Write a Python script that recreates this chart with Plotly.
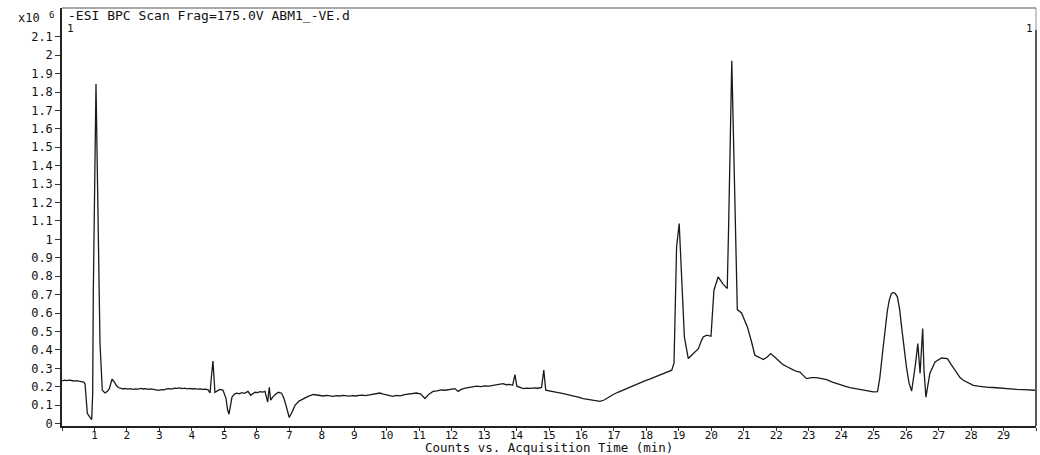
import plotly.graph_objects as go

# Acquisition time (min) and BPC intensity (x10^6 counts)
time_min = [
    0.00, 0.08, 0.15, 0.22, 0.30, 0.37, 0.44, 0.52, 0.60, 0.67, 0.71, 0.78, 0.86, 0.915, 0.945, 0.964,
    1.047, 1.10, 1.17, 1.241, 1.324, 1.40, 1.457, 1.54, 1.611, 1.68, 1.734, 1.80, 1.888, 1.95,
    2.02, 2.10, 2.18, 2.26, 2.34, 2.42, 2.50, 2.58, 2.66, 2.74, 2.82, 2.90, 2.98,
    3.06, 3.14, 3.22, 3.30, 3.38, 3.46, 3.54, 3.62, 3.70, 3.78, 3.86, 3.94,
    4.02, 4.10, 4.18, 4.26, 4.34, 4.42, 4.50, 4.56, 4.60, 4.65, 4.71, 4.78, 4.86, 4.93, 4.96,
    5.051, 5.10, 5.143, 5.19, 5.236, 5.31, 5.38, 5.46, 5.54, 5.62, 5.69, 5.728, 5.811, 5.87, 5.944,
    6.02, 6.10, 6.18, 6.252, 6.335, 6.384, 6.428, 6.489, 6.57, 6.662, 6.766, 6.84, 6.899, 6.95,
    7.00, 7.08, 7.176, 7.30, 7.432, 7.58, 7.739, 7.85, 7.946,
    8.05, 8.15, 8.25, 8.35, 8.45, 8.55, 8.65, 8.75, 8.85, 8.95,
    9.05, 9.15, 9.25, 9.35, 9.45, 9.55, 9.65, 9.79, 9.90,
    10.05, 10.19, 10.30, 10.42, 10.55, 10.68, 10.80, 10.92,
    11.05, 11.18, 11.30, 11.43, 11.55, 11.68, 11.80, 11.92,
    12.02, 12.10, 12.20, 12.30, 12.42, 12.55, 12.66, 12.77, 12.90,
    13.02, 13.15, 13.27, 13.39, 13.48, 13.58, 13.68, 13.78, 13.88, 13.95,
    14.01, 14.10, 14.21, 14.32, 14.44, 14.55, 14.66, 14.77, 14.84, 14.90,
    15.02, 15.15, 15.28, 15.41, 15.54, 15.67, 15.80, 15.93,
    16.05, 16.18, 16.31, 16.44, 16.57, 16.70, 16.84, 16.98,
    17.12, 17.26, 17.40, 17.53, 17.67, 17.80, 17.95,
    18.10, 18.26, 18.42, 18.60, 18.78, 18.85, 18.93,
    19.01, 19.09, 19.17, 19.29, 19.44, 19.60, 19.70, 19.75, 19.86, 19.99,
    20.08, 20.21, 20.35, 20.49, 20.53, 20.63, 20.70, 20.80, 20.93,
    21.02, 21.11, 21.24, 21.34, 21.47, 21.60, 21.72, 21.83, 21.95,
    22.10, 22.21, 22.32, 22.42, 22.52, 22.63, 22.73, 22.83, 22.93,
    23.08, 23.24, 23.40, 23.55, 23.73, 23.91,
    24.11, 24.27, 24.42, 24.55, 24.68, 24.84, 24.99,
    25.12, 25.19, 25.27, 25.35, 25.42, 25.48, 25.54, 25.60, 25.66, 25.73, 25.80, 25.86, 25.93,
    26.01, 26.09, 26.17, 26.29, 26.36, 26.43, 26.51, 26.55, 26.61, 26.73, 26.89,
    27.09, 27.27, 27.40, 27.56, 27.66, 27.76, 27.92,
    28.07, 28.22, 28.37, 28.53, 28.68, 28.84,
    29.00, 29.17, 29.40, 29.62, 29.80, 29.97,
]
intensity_e6 = [
    0.232, 0.236, 0.233, 0.236, 0.234, 0.231, 0.233, 0.229, 0.227, 0.225, 0.215, 0.056, 0.034, 0.022, 0.165, 0.71,
    1.844, 1.25, 0.436, 0.181, 0.166, 0.175, 0.19, 0.241, 0.226, 0.205, 0.196, 0.192, 0.188, 0.191,
    0.187, 0.190, 0.186, 0.189, 0.187, 0.191, 0.188, 0.190, 0.186, 0.188, 0.185, 0.182, 0.180,
    0.184, 0.183, 0.188, 0.190, 0.187, 0.193, 0.191, 0.194, 0.190, 0.192, 0.189, 0.191,
    0.188, 0.190, 0.187, 0.189, 0.186, 0.187, 0.183, 0.166, 0.25, 0.34, 0.17, 0.178, 0.186, 0.183, 0.181,
    0.137, 0.075, 0.051, 0.09, 0.144, 0.160, 0.165, 0.162, 0.168, 0.164, 0.172, 0.175, 0.154, 0.163, 0.17,
    0.168, 0.173, 0.171, 0.175, 0.117, 0.197, 0.127, 0.144, 0.158, 0.17, 0.165, 0.135, 0.099, 0.06,
    0.033, 0.06, 0.099, 0.122, 0.136, 0.148, 0.158, 0.155, 0.152,
    0.150, 0.153, 0.151, 0.148, 0.152, 0.150, 0.153, 0.151, 0.149, 0.152,
    0.150, 0.153, 0.155, 0.152, 0.156, 0.158, 0.160, 0.166, 0.160,
    0.152, 0.148, 0.153, 0.151, 0.157, 0.160, 0.163, 0.166,
    0.160, 0.136, 0.160, 0.175, 0.178, 0.183, 0.181, 0.186,
    0.188, 0.19, 0.175, 0.186, 0.192, 0.196, 0.199, 0.203, 0.201,
    0.205, 0.203, 0.207, 0.208, 0.212, 0.217, 0.211, 0.213, 0.208, 0.266,
    0.203, 0.196, 0.19, 0.193, 0.191, 0.194, 0.192, 0.196, 0.29, 0.181,
    0.178, 0.172, 0.168, 0.164, 0.159, 0.155, 0.148, 0.143,
    0.136, 0.132, 0.128, 0.124, 0.121, 0.128, 0.145, 0.158,
    0.170, 0.181, 0.192, 0.200, 0.210, 0.221, 0.232,
    0.241, 0.252, 0.262, 0.275, 0.29, 0.328, 0.959,
    1.086, 0.796, 0.47, 0.353, 0.38, 0.407, 0.452, 0.47, 0.48, 0.474,
    0.724, 0.796, 0.76, 0.733, 1.05, 1.97, 1.412, 0.619, 0.601,
    0.566, 0.525, 0.443, 0.371, 0.360, 0.348, 0.362, 0.38, 0.362,
    0.335, 0.32, 0.31, 0.299, 0.292, 0.283, 0.28, 0.262, 0.244,
    0.25, 0.25, 0.244, 0.239, 0.225, 0.213,
    0.203, 0.195, 0.19, 0.188, 0.185, 0.180, 0.172,
    0.174, 0.25, 0.38, 0.51, 0.61, 0.67, 0.703, 0.712, 0.707, 0.688, 0.62, 0.525, 0.41,
    0.307, 0.22, 0.177, 0.326, 0.435, 0.272, 0.516, 0.29, 0.144, 0.272, 0.335,
    0.356, 0.353, 0.317, 0.272, 0.25, 0.235, 0.220,
    0.208, 0.203, 0.199, 0.197, 0.196, 0.193,
    0.190, 0.188, 0.186, 0.184, 0.183, 0.181,
]

x_tick_vals = list(range(0, 31))
x_tick_text = [""] + [str(i) for i in range(1, 30)] + [""]
y_tick_vals = [round(i * 0.1, 1) for i in range(0, 22)]
y_tick_text = ["0"] + [("%g" % v) for v in y_tick_vals[1:]]

title_text = "-ESI BPC Scan Frag=175.0V ABM1_-VE.d"
x_title_text = "Counts vs. Acquisition Time (min)"

FONT = "DejaVu Sans Mono"
INK = "#111111"

fig = go.Figure()
fig.add_trace(go.Scatter(
    x=time_min, y=intensity_e6, mode="lines",
    line=dict(color="#1a1a1a", width=1.3),
    showlegend=False, hoverinfo="skip",
))

W, H = 1040, 455
ML, MR, MT, MB = 62, 4, 8, 29
PH = H - MT - MB


def py(pix):
    return (H - MB - pix) / PH


def px(pix):
    return (pix - ML) / (W - ML - MR)


fig.update_layout(
    width=W, height=H,
    margin=dict(l=ML, r=MR, t=MT, b=MB, pad=0),
    paper_bgcolor="white", plot_bgcolor="white",
    font=dict(family=FONT, size=12, color=INK),
    xaxis=dict(
        range=[0, 30], tickmode="array", tickvals=x_tick_vals, ticktext=x_tick_text,
        showgrid=False, zeroline=False, showline=True, linecolor="#222", linewidth=1.5,
        ticks="outside", ticklen=3, tickcolor="#333", tickwidth=1,
        ticklabelstandoff=-5,
        tickfont=dict(family=FONT, size=11, color=INK),
    ),
    yaxis=dict(
        range=[-0.013, 2.256], tickmode="array", tickvals=y_tick_vals, ticktext=y_tick_text,
        showgrid=False, zeroline=False, showline=True, linecolor="#222", linewidth=1.5,
        ticks="outside", ticklen=5, tickcolor="#333", tickwidth=1,
        tickfont=dict(family=FONT, size=12, color=INK),
    ),
)

# frame: thin top line, right border
fig.add_shape(type="line", xref="paper", yref="paper", x0=0, x1=1, y0=1, y1=1,
              line=dict(color="#555", width=1))
fig.add_shape(type="line", xref="paper", yref="paper", x0=1, x1=1, y0=py(30), y1=1,
              line=dict(color="#777", width=0.8))
fig.add_shape(type="line", xref="paper", yref="paper", x0=1, x1=1, y0=0, y1=py(30),
              line=dict(color="#222", width=1.5))

ann = [
    dict(text=title_text, x=px(66), y=py(16), xanchor="left", yanchor="middle", size=13),
    dict(text="x10", x=px(42), y=py(18), xanchor="right", yanchor="middle", size=12),
    dict(text="6", x=px(51), y=py(15), xanchor="center", yanchor="middle", size=9),
    dict(text="1", x=px(70), y=py(29), xanchor="center", yanchor="middle", size=11),
    dict(text="1", x=px(1029), y=py(29), xanchor="center", yanchor="middle", size=11),
    dict(text=x_title_text, x=px(549), y=py(447), xanchor="center", yanchor="middle", size=12.5),
]
for a in ann:
    fig.add_annotation(text=a["text"], x=a["x"], y=a["y"], xref="paper", yref="paper",
                       xanchor=a["xanchor"], yanchor=a["yanchor"], showarrow=False,
                       font=dict(family=FONT, size=a["size"], color=INK))

fig.write_html("out.html")
